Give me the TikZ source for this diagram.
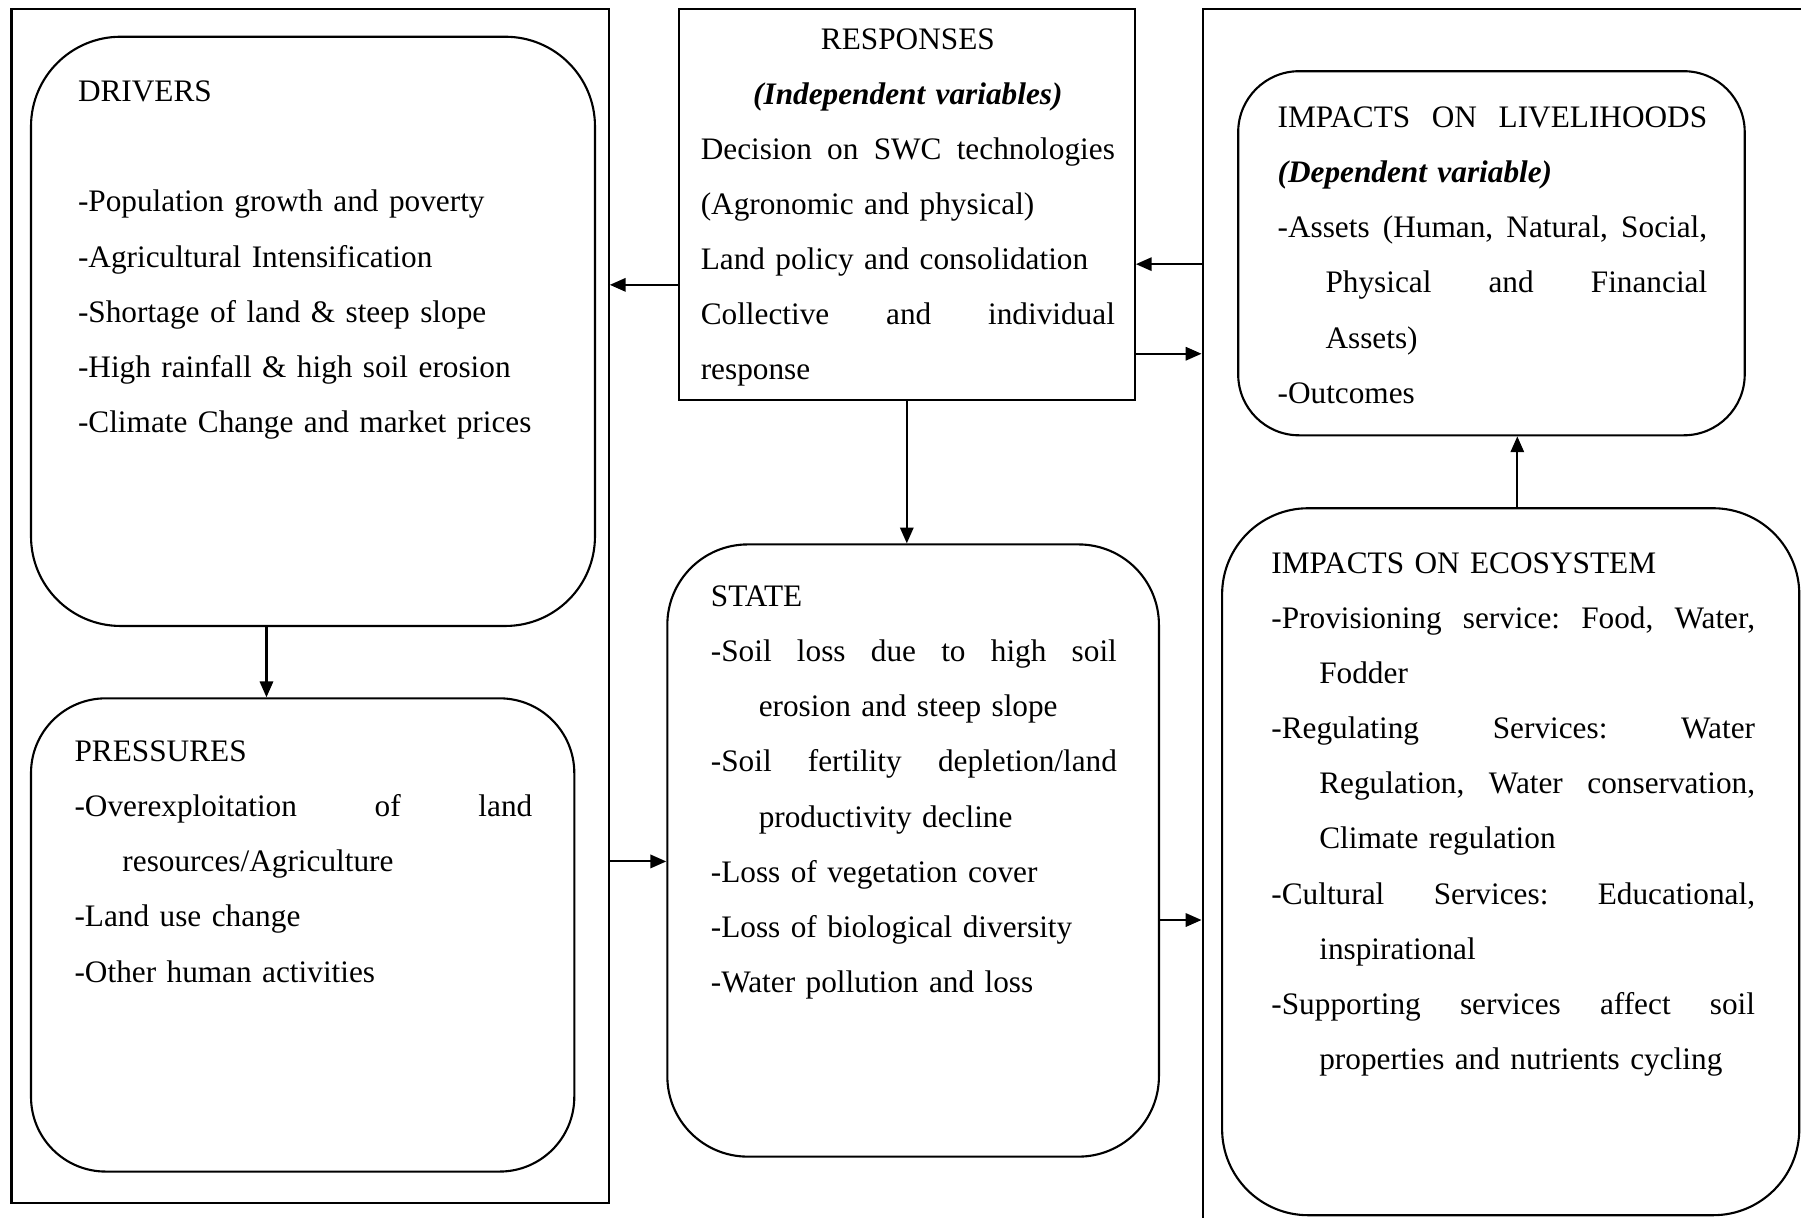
\documentclass[tikz,border=0pt]{standalone}
\usepackage{fontspec}
\setmainfont{Liberation Serif}
\usetikzlibrary{arrows.meta,fit}

\begin{document}
\begin{tikzpicture}[->, >={Triangle[length=4.5pt,width=3.8pt]}, line width=0.6pt,
    x=0.11486mm, y=-0.11486mm]
    \tikzstyle{frame}=[draw, inner sep=0pt]
    \tikzstyle{textblock}=[inner sep=0pt, anchor=base west,
        font=\fontsize{8.9pt}{15.69pt}\selectfont]

    \useasboundingbox (0,0) rectangle (1568,1059.6);
    \clip (0,0) rectangle (1568,1059.6);

    % Draw the outer frames
    \node[frame, fit={(10,7.5) (530,1047)}] (causes) {};
    \node[frame, fit={(1047,7.5) (1700,1200)}] (effects) {};

    % Draw the boxes
    \node[frame, rounded corners=8.96mm, fit={(27,32) (518,545)}] (drivers) {};
    \node[frame, rounded corners=7.47mm, fit={(27,608) (500,1020)}] (pressures) {};
    \node[frame, fit={(591,7.5) (988,348)}] (responses) {};
    \node[frame, rounded corners=8.04mm, fit={(581,474) (1009,1007)}] (state) {};
    \node[frame, rounded corners=6.09mm, fit={(1078,62) (1519,379)}] (livelihoods) {};
    \node[frame, rounded corners=8.61mm, fit={(1064,442.5) (1566.5,1058)}] (ecosystem) {};

    % Write the texts
    \node[textblock, text width=48.2mm] (txt-drivers) at (67,88.5) {%
        DRIVERS\\[\baselineskip]
        -Population growth and poverty\\
        -Agricultural Intensification\\
        -Shortage of land \& steep slope\\
        -High rainfall \& high soil erosion\\
        -Climate Change and market prices};
    \node[textblock, text width=45.77mm] (txt-pressures) at (64,663) {%
        PRESSURES\\
        -Overexploitation\hfill of\hfill land\\
        \hspace*{4.79mm}resources/Agriculture\\
        -Land use change\\
        -Other human activities};
    \node[textblock, text width=41.41mm] (txt-responses) at (609.2,42.7) {%
        \makebox[\linewidth]{RESPONSES}\\
        \makebox[\linewidth]{\textbf{\textit{(Independent variables)}}}\\
        Decision\hfill on\hfill SWC\hfill technologies\\
        (Agronomic and physical)\\
        Land policy and consolidation\\
        Collective\hfill and\hfill individual\\
        response};
    \node[textblock, text width=40.6mm] (txt-state) at (618,528) {%
        STATE\\
        -Soil\hfill loss\hfill due\hfill to\hfill high\hfill soil\\
        \hspace*{4.79mm}erosion and steep slope\\
        -Soil\hfill fertility\hfill depletion/land\\
        \hspace*{4.79mm}productivity decline\\
        -Loss of vegetation cover\\
        -Loss of biological diversity\\
        -Water pollution and loss};
    \node[textblock, text width=42.96mm] (txt-livelihoods) at (1111.4,111) {%
        IMPACTS\hfill ON\hfill LIVELIHOODS\\
        \textbf{\textit{(Dependent variable)}}\\
        -Assets\hfill (Human,\hfill Natural,\hfill Social,\\
        \hspace*{4.79mm}Physical\hfill and\hfill Financial\\
        \hspace*{4.79mm}Assets)\\
        -Outcomes};
    \node[textblock, text width=48.36mm] (txt-ecosystem) at (1106,499) {%
        IMPACTS ON ECOSYSTEM\\
        -Provisioning\hfill service:\hfill Food,\hfill Water,\\
        \hspace*{4.79mm}Fodder\\
        -Regulating\hfill Services:\hfill Water\\
        \hspace*{4.79mm}Regulation,\hfill Water\hfill conservation,\\
        \hspace*{4.79mm}Climate regulation\\
        -Cultural\hfill Services:\hfill Educational,\\
        \hspace*{4.79mm}inspirational\\
        -Supporting\hfill services\hfill affect\hfill soil\\
        \hspace*{4.79mm}properties and nutrients cycling};

    % Draw the connectors
    \path (232,0 |- drivers.south) edge (232,0 |- pressures.north);
    \path (responses.west |- 0,248) edge (causes.east |- 0,248);
    \path (effects.west |- 0,230) edge (responses.east |- 0,230);
    \path (responses.east |- 0,308) edge (effects.west |- 0,308);
    \path (responses.south) edge (responses.south |- state.north);
    \path (causes.east |- 0,750) edge (state.west |- 0,750);
    \path (state.east |- 0,801) edge (effects.west |- 0,801);
    \path (1321,0 |- ecosystem.north) edge (1321,0 |- livelihoods.south);
\end{tikzpicture}
\end{document}
